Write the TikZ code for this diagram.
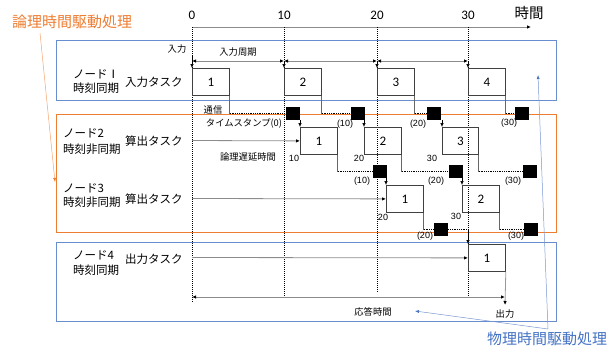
\documentclass[tikz,border=0pt]{standalone}
\usepackage{fontspec}
\setmainfont{Carlito}
\newfontfamily\jp{Noto Sans CJK JP}
\newfontfamily\arialf{Liberation Sans}
\usetikzlibrary{arrows.meta}
\definecolor{orng}{RGB}{237,125,49}
\definecolor{blu}{RGB}{68,114,196}
\definecolor{lblu}{RGB}{120,150,210}
\begin{document}
\begin{tikzpicture}[x=1pt,y=-1pt,
  task/.style={draw=black!75, line width=0.8pt, minimum width=37pt, minimum height=27pt, inner sep=0pt, anchor=north west, font=\fontsize{13}{13}\selectfont},
  stamp/.style={fill=black, minimum width=14pt, minimum height=13pt, inner sep=0pt},
  lab/.style={font=\jp\fontsize{11.5}{12}\selectfont, anchor=west, inner sep=0pt},
  small/.style={font=\jp\fontsize{9.3}{10}\selectfont, inner sep=0pt},
  num/.style={font=\arialf\fontsize{9}{10}\selectfont, inner sep=0pt},
  axnum/.style={font=\fontsize{13}{13}\selectfont, inner sep=0pt},
  tline/.style={dash pattern=on 1pt off 1pt, line width=0.7pt},
  conn/.style={draw=black!60, line width=0.8pt},
  dconn/.style={dash pattern=on 1pt off 0.8pt, line width=0.7pt},
  tip/.style={-{Latex[black,length=4pt,width=3.5pt]}},
  dtip/.style={{Latex[black,length=4pt,width=3.5pt]}-{Latex[black,length=4pt,width=3.5pt]}},
  gl/.style={draw=black!45, line width=0.8pt},
  bigl/.style={font=\jp\fontsize{15}{15}\selectfont, anchor=west, inner sep=0pt}
]
\useasboundingbox (0,0) rectangle (616,351);

% frames
\draw[blu!80, line width=0.8pt] (56,40) rectangle (556,100);
\draw[orng, line width=0.8pt] (56,114) rectangle (556,232);
\draw[blu!80, line width=0.8pt] (56,242) rectangle (556,321);

% timeline
\coordinate (t0) at (192,27);
\coordinate (tend) at (531,27);
\draw[gl, tip] (t0) -- (tend);
\node[axnum] (l0) at (192,15) {0};
\node[axnum] (l10) at (284,15) {10};
\node[axnum] (l20) at (377,15) {20};
\node[axnum] (l30) at (468,15) {30};
\node[font=\jp\fontsize{14.5}{15}\selectfont, inner sep=0pt] (tlab) at (529,13) {時間};

% time dotted lines
\coordinate (d0a) at (192,27); \coordinate (d0b) at (192,303);
\coordinate (d1a) at (284,27); \coordinate (d1b) at (284,297);
\coordinate (d2a) at (377,27); \coordinate (d2b) at (377,293);
\coordinate (d3a) at (468,27); \coordinate (d3b) at (468,297);
\draw[tline] (d0a) -- (d0b);
\draw[tline] (d1a) -- (d1b);
\draw[tline] (d2a) -- (d2b);
\draw[tline] (d3a) -- (d3b);

% big labels
\node[bigl, text=orng] (ltd) at (12,22) {論理時間駆動処理};
\node[bigl, text=blu] (ptd) at (487,339) {物理時間駆動処理};

% node labels
\node[lab] (n1l1) at (73,74) {ノードⅠ};
\node[lab] (n1l2) at (73,88) {時刻同期};
\node[lab] (n1t) at (125,82) {入力タスク};
\node[lab] (n2l1) at (63,133) {ノード2};
\node[lab] (n2l2) at (63,149) {時刻非同期};
\node[lab] (n2t) at (125,141) {算出タスク};
\node[lab] (n3l1) at (63,188) {ノード3};
\node[lab] (n3l2) at (63,202) {時刻非同期};
\node[lab] (n3t) at (125,199) {算出タスク};
\node[lab] (n4l1) at (73,255) {ノード4};
\node[lab] (n4l2) at (73,270) {時刻同期};
\node[lab] (n4t) at (125,259) {出力タスク};

% node1 tasks
\node[task] (n1a) at (192,68) {1};
\node[task] (n1b) at (284,68) {2};
\node[task] (n1c) at (377,68) {3};
\node[task] (n1d) at (468,68) {4};

% input arrows
\node[small] (inl) at (177,49) {入力};
\node[small] (ipl) at (238,52) {入力周期};
\coordinate (p0) at (192,61); \coordinate (p1) at (284,61);
\coordinate (p2) at (377,61); \coordinate (p3) at (468,61);
\draw[gl, dtip] (p0) -- (p1);
\draw[gl, dtip] (p1) -- (p2);
\draw[gl, dtip] (p2) -- (p3);
\draw[tip, line width=0.6pt] (192,55) -- (n1a.north west);
\draw[tip, line width=0.6pt] (p1) -- (n1b.north west);
\draw[tip, line width=0.6pt] (p2) -- (n1c.north west);
\draw[tip, line width=0.6pt] (p3) -- (n1d.north west);

% stamps row A
\node[stamp] (sA1) at (293,113.5) {};
\node[stamp] (sA2) at (357.5,113.5) {};
\node[stamp] (sA3) at (433.5,113.5) {};
\node[stamp] (sA4) at (521.5,113.5) {};
\foreach \b/\s in {n1a/sA1,n1b/sA2,n1c/sA3,n1d/sA4}{
  \draw[conn] (\b.south east) -- (\b.south east |- \s.west);
  \draw[dconn] (\b.south east |- \s.west) -- (\s.west);
}
\node[small] (tsv) at (213,110) {通信};
\node[small] (tsp) at (244,124) {タイムスタンプ(0)};
\node[num] (a10) at (345,124) {(10)};
\node[num] (a20) at (418,124) {(20)};
\node[num] (a30) at (509,123) {(30)};

% node2 tasks
\node[task] (n2a) at (300,127) {1};
\node[task] (n2b) at (364,127) {2};
\node[task, minimum width=36pt] (n2c) at (442,127) {3};
\draw[tip, line width=0.6pt] (sA1.south -| n2a.north west) -- (n2a.north west);
\draw[tip, line width=0.6pt] (sA2.south -| n2b.north west) -- (n2b.north west);
\draw[tip, line width=0.6pt] (sA3.south -| n2c.north west) -- (n2c.north west);
\coordinate (h2) at (192,140.5);
\draw[gl, tip] (h2) -- (n2a.west);
\node[small] (lld) at (248,157) {論理遅延時間};
\node[num] (b10) at (294,158) {10};
\node[num] (b20) at (359,158) {20};
\node[num] (b30) at (432,158) {30};

% stamps row B
\node[stamp] (sB1) at (379.5,171.5) {};
\node[stamp] (sB2) at (455.5,171.5) {};
\node[stamp] (sB3) at (529.5,171.5) {};
\foreach \b/\s in {n2a/sB1,n2b/sB2,n2c/sB3}{
  \draw[conn] (\b.south east) -- (\b.south east |- \s.west);
  \draw[dconn] (\b.south east |- \s.west) -- (\s.west);
}
\node[num] (c10) at (362,181) {(10)};
\node[num] (c20) at (436,181) {(20)};
\node[num] (c30) at (513,181) {(30)};

% node3 tasks
\node[task] (n3a) at (386,185) {1};
\node[task] (n3b) at (462,185) {2};
\draw[tip, line width=0.6pt] (sB1.south -| n3a.north west) -- (n3a.north west);
\draw[tip, line width=0.6pt] (sB2.south -| n3b.north west) -- (n3b.north west);
\coordinate (h3) at (192,198.5);
\draw[gl, tip] (h3) -- (n3a.west);
\node[num] (e20) at (383,217) {20};
\node[num] (e30) at (456,216) {30};

% stamps row C
\node[stamp] (sC1) at (441,229.5) {};
\node[stamp] (sC2) at (530.5,229.5) {};
\foreach \b/\s in {n3a/sC1,n3b/sC2}{
  \draw[conn] (\b.south east) -- (\b.south east |- \s.west);
  \draw[dconn] (\b.south east |- \s.west) -- (\s.west);
}
\node[num] (f20) at (425,236) {(20)};
\node[num] (f30) at (516,236) {(30)};

% node4 task
\node[task] (n4a) at (468,244) {1};
\coordinate (k1) at (468,229.5);
\draw[dconn] (sC1.east) -- (k1);
\draw[tip, line width=0.6pt] (k1) -- (n4a.north west);
\coordinate (h4) at (192,257.5);
\draw[gl, tip] (h4) -- (n4a.west);

% response time
\coordinate (rs) at (192,297);
\coordinate (re) at (505,297);
\draw[gl, dtip] (rs) -- (re);
\coordinate (out) at (505,305);
\draw[draw=black!40, line width=0.8pt, tip] (n4a.south east) -- (out);
\node[small] (outl) at (505,314) {出力};
\node[small] (rtl) at (373,312) {応答時間};

% annotation pointers
\coordinate (o1) at (40,33); \coordinate (o2) at (55,182);
\draw[orng!70, line width=0.5pt, -{Latex[orng,length=4pt,width=3pt]}] (o1) -- (o2);
\coordinate (b0) at (548,329);
\coordinate (b1) at (538,75);
\coordinate (b2) at (415,311);
\draw[lblu, line width=0.5pt, -{Latex[blu,length=4pt,width=3pt]}] (b0) -- (b1);
\draw[lblu, line width=0.5pt, -{Latex[blu,length=4pt,width=3pt]}] (b0) -- (b2);
\end{tikzpicture}
\end{document}
